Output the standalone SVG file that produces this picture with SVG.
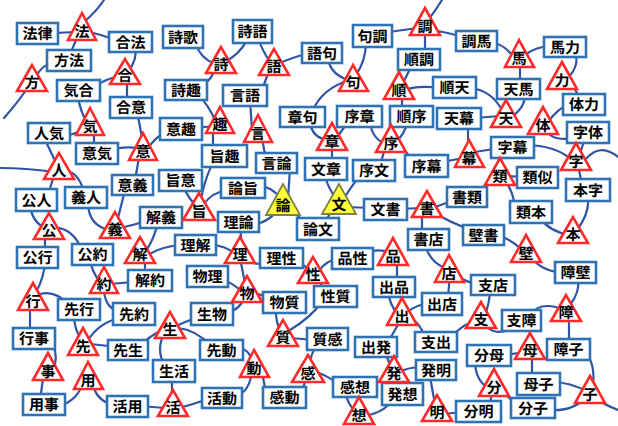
<svg xmlns="http://www.w3.org/2000/svg" width="618" height="426" viewBox="0 0 618 426">
<style>
.c path{fill:none;stroke:#2f54a5;stroke-width:2.2;stroke-linecap:round}
rect{fill:#fff;stroke:#2e74b5;stroke-width:2.6}
polygon{fill:#fff;stroke:#ff2a2a;stroke-width:2.6;stroke-linejoin:miter}
polygon.y{fill:#ffff3c;stroke:#7f7f40;stroke-width:1.8}
text{font-family:"Noto Sans CJK JP","Noto Sans CJK SC",sans-serif;font-weight:700;font-size:15px;text-anchor:middle;fill:#000;text-rendering:geometricPrecision}
#words,#chars{opacity:0.999}
</style>
<rect x="0" y="0" width="618" height="426" style="fill:#fff;stroke:none"/>
<g class="c">
<path d="M84 22 Q96 12 104 0"/>
<path d="M55 33 L75 32"/>
<path d="M88 32 Q100 34 115 40"/>
<path d="M78 36 Q74 44 70 55"/>
<path d="M55 62 Q42 64 35 78"/>
<path d="M30 84 Q20 100 4 118"/>
<path d="M135 48 Q138 58 128 72"/>
<path d="M95 86 Q108 78 120 76"/>
<path d="M127 78 L127 102"/>
<path d="M78 96 Q80 112 88 124"/>
<path d="M65 136 Q76 134 86 128"/>
<path d="M94 130 L94 150"/>
<path d="M137 112 Q140 125 143 145"/>
<path d="M112 150 Q122 146 138 148"/>
<path d="M165 132 Q155 138 148 148"/>
<path d="M140 152 L135 180"/>
<path d="M45 140 Q50 150 57 165"/>
<path d="M0 168 Q25 168 55 172"/>
<path d="M62 170 Q78 170 84 192"/>
<path d="M55 172 L48 195"/>
<path d="M30 205 Q32 222 45 228"/>
<path d="M52 228 Q72 226 82 250"/>
<path d="M45 232 L45 252"/>
<path d="M88 202 Q88 226 110 230"/>
<path d="M125 190 L117 222"/>
<path d="M118 228 Q132 226 148 220"/>
<path d="M158 222 Q154 240 145 252"/>
<path d="M90 260 Q92 272 100 282"/>
<path d="M145 255 L145 276"/>
<path d="M108 284 L135 282"/>
<path d="M104 288 Q104 308 120 312"/>
<path d="M148 255 Q162 246 182 245"/>
<path d="M210 245 Q225 245 235 254"/>
<path d="M242 248 L240 226"/>
<path d="M255 224 Q270 222 282 205"/>
<path d="M258 186 Q272 186 282 200"/>
<path d="M290 168 L288 200"/>
<path d="M290 205 L305 225"/>
<path d="M228 190 Q212 192 203 205"/>
<path d="M183 186 Q188 198 198 208"/>
<path d="M215 160 Q205 175 200 205"/>
<path d="M213 125 L213 152"/>
<path d="M198 95 Q208 104 216 122"/>
<path d="M195 128 L215 126"/>
<path d="M216 65 Q214 78 200 88"/>
<path d="M196 44 Q200 58 215 64"/>
<path d="M248 38 Q240 55 224 62"/>
<path d="M258 38 Q262 50 270 62"/>
<path d="M278 64 Q290 58 310 53"/>
<path d="M270 68 L262 90"/>
<path d="M250 100 L252 130"/>
<path d="M262 138 L266 160"/>
<path d="M328 58 Q330 74 348 80"/>
<path d="M366 42 Q366 60 356 75"/>
<path d="M350 80 Q322 88 312 112"/>
<path d="M385 33 Q400 30 420 28"/>
<path d="M428 20 Q436 10 442 0"/>
<path d="M425 30 L425 55"/>
<path d="M430 30 Q448 32 465 38"/>
<path d="M412 65 L402 85"/>
<path d="M405 90 Q418 85 440 88"/>
<path d="M402 92 L402 112"/>
<path d="M310 122 Q312 138 328 140"/>
<path d="M348 122 L335 140"/>
<path d="M332 145 L332 165"/>
<path d="M370 122 Q372 140 388 145"/>
<path d="M407 122 Q405 135 395 142"/>
<path d="M385 148 L380 166"/>
<path d="M395 146 Q405 148 412 160"/>
<path d="M440 163 Q450 160 465 158"/>
<path d="M468 124 L468 155"/>
<path d="M475 118 L500 116"/>
<path d="M470 88 Q492 90 503 112"/>
<path d="M525 95 Q525 108 510 118"/>
<path d="M520 85 L520 55"/>
<path d="M490 42 Q505 44 514 58"/>
<path d="M525 55 Q535 47 550 46"/>
<path d="M575 52 Q580 65 568 78"/>
<path d="M572 82 L580 100"/>
<path d="M570 104 Q558 108 548 122"/>
<path d="M545 128 Q550 142 575 138"/>
<path d="M585 138 L578 160"/>
<path d="M585 160 Q600 142 618 157"/>
<path d="M525 145 Q555 145 572 160"/>
<path d="M500 148 L475 152"/>
<path d="M578 165 L582 185"/>
<path d="M588 195 Q590 215 575 232"/>
<path d="M540 218 Q550 232 570 235"/>
<path d="M505 176 L525 177"/>
<path d="M503 178 Q512 188 515 206"/>
<path d="M480 192 Q488 182 497 175"/>
<path d="M435 207 L455 200"/>
<path d="M400 209 L420 208"/>
<path d="M422 212 L422 235"/>
<path d="M432 212 Q450 222 470 230"/>
<path d="M498 236 Q510 238 522 250"/>
<path d="M530 255 Q538 270 562 273"/>
<path d="M578 280 Q580 292 570 305"/>
<path d="M325 176 Q328 188 337 200"/>
<path d="M360 176 Q352 185 343 200"/>
<path d="M345 207 L372 208"/>
<path d="M325 222 L335 205"/>
<path d="M245 258 Q252 266 268 263"/>
<path d="M295 262 Q305 264 310 272"/>
<path d="M340 258 Q326 260 318 272"/>
<path d="M365 254 Q375 248 390 252"/>
<path d="M397 258 L397 283"/>
<path d="M318 278 L325 292"/>
<path d="M322 302 Q310 318 290 330"/>
<path d="M276 308 Q275 322 282 335"/>
<path d="M252 292 L270 298"/>
<path d="M222 280 Q232 282 242 292"/>
<path d="M240 258 L246 288"/>
<path d="M228 312 Q240 310 246 295"/>
<path d="M178 325 L200 316"/>
<path d="M142 344 Q150 336 162 330"/>
<path d="M178 328 Q196 330 210 345"/>
<path d="M165 332 Q155 350 165 365"/>
<path d="M90 344 L118 347"/>
<path d="M74 315 Q74 330 82 340"/>
<path d="M120 318 Q100 322 88 340"/>
<path d="M45 262 Q44 278 36 292"/>
<path d="M40 294 Q55 290 68 304"/>
<path d="M30 300 L30 335"/>
<path d="M50 342 Q58 350 55 365"/>
<path d="M44 372 L40 400"/>
<path d="M58 406 Q78 402 85 378"/>
<path d="M92 380 Q95 402 115 405"/>
<path d="M140 406 L165 408"/>
<path d="M172 376 L172 400"/>
<path d="M178 408 Q192 405 210 398"/>
<path d="M236 347 Q248 348 252 360"/>
<path d="M236 396 Q250 392 252 370"/>
<path d="M262 372 L266 393"/>
<path d="M300 393 Q306 385 306 372"/>
<path d="M318 345 Q310 352 310 368"/>
<path d="M290 338 L315 340"/>
<path d="M315 372 Q325 374 340 385"/>
<path d="M345 392 Q348 405 356 412"/>
<path d="M392 400 Q385 412 365 416"/>
<path d="M398 378 L400 390"/>
<path d="M385 352 L392 370"/>
<path d="M400 372 Q410 366 425 368"/>
<path d="M430 375 Q432 390 436 408"/>
<path d="M442 414 L465 412"/>
<path d="M388 342 Q395 330 402 318"/>
<path d="M388 292 Q390 305 398 315"/>
<path d="M408 312 Q415 305 430 303"/>
<path d="M410 318 Q420 322 425 338"/>
<path d="M448 298 L450 272"/>
<path d="M425 245 Q430 262 445 268"/>
<path d="M455 272 Q462 282 480 285"/>
<path d="M490 290 Q490 302 484 318"/>
<path d="M478 320 Q465 322 450 338"/>
<path d="M485 322 Q490 338 515 328"/>
<path d="M530 315 Q540 300 565 310"/>
<path d="M569 310 L569 345"/>
<path d="M585 352 Q597 365 592 392"/>
<path d="M552 382 Q570 382 588 392"/>
<path d="M548 410 Q575 412 588 395"/>
<path d="M595 398 Q605 405 618 410"/>
<path d="M530 326 L530 340"/>
<path d="M532 352 L532 380"/>
<path d="M505 355 L525 352"/>
<path d="M475 360 Q475 380 488 388"/>
<path d="M492 390 L490 406"/>
<path d="M498 388 Q505 395 518 405"/>
</g>
<g id="words">
<g id="w-houritsu"><rect x="17" y="23" width="41" height="21"/><text x="37.5" y="39">法律</text></g>
<g id="w-houhou"><rect x="47" y="50" width="44" height="21"/><text x="69" y="66">方法</text></g>
<g id="w-gouhou"><rect x="109" y="32" width="43" height="20"/><text x="130.5" y="47.5">合法</text></g>
<g id="w-kiai"><rect x="57" y="80" width="43" height="21"/><text x="78.5" y="96">気合</text></g>
<g id="w-goui"><rect x="110" y="97" width="42" height="21"/><text x="131" y="113">合意</text></g>
<g id="w-ninki"><rect x="28" y="123" width="42" height="20"/><text x="49" y="138.5">人気</text></g>
<g id="w-iki"><rect x="76" y="143" width="42" height="21"/><text x="97" y="159">意気</text></g>
<g id="w-igi"><rect x="112" y="175" width="41" height="20"/><text x="132.5" y="190.5">意義</text></g>
<g id="w-gijin"><rect x="65" y="187" width="42" height="21"/><text x="86" y="203">義人</text></g>
<g id="w-koujin"><rect x="16" y="189" width="41" height="22"/><text x="36.5" y="205.5">公人</text></g>
<g id="w-kaigi"><rect x="140" y="207" width="42" height="21"/><text x="161" y="223">解義</text></g>
<g id="w-koukou"><rect x="17" y="247" width="41" height="21"/><text x="37.5" y="263">公行</text></g>
<g id="w-kouyaku"><rect x="72" y="244" width="41" height="21"/><text x="92.5" y="260">公約</text></g>
<g id="w-kaiyaku"><rect x="128" y="270" width="44" height="21"/><text x="150" y="286">解約</text></g>
<g id="w-senkou"><rect x="58" y="299" width="42" height="21"/><text x="79" y="315">先行</text></g>
<g id="w-senyaku"><rect x="113" y="303" width="42" height="22"/><text x="134" y="319.5">先約</text></g>
<g id="w-gyouji"><rect x="13" y="328" width="42" height="21"/><text x="34" y="344">行事</text></g>
<g id="w-sensei"><rect x="108" y="340" width="40" height="20"/><text x="128" y="355.5">先生</text></g>
<g id="w-youji"><rect x="23" y="394" width="42" height="21"/><text x="44" y="410">用事</text></g>
<g id="w-katsuyou"><rect x="107" y="396" width="41" height="21"/><text x="127.5" y="412">活用</text></g>
<g id="w-seikatsu"><rect x="153" y="360" width="42" height="22"/><text x="174" y="376.5">生活</text></g>
<g id="w-seibutsu"><rect x="191" y="303" width="42" height="22"/><text x="212" y="319.5">生物</text></g>
<g id="w-sendou"><rect x="200" y="340" width="43" height="20"/><text x="221.5" y="355.5">先動</text></g>
<g id="w-katsudou"><rect x="202" y="388" width="40" height="20"/><text x="222" y="403.5">活動</text></g>
<g id="w-kandou"><rect x="263" y="387" width="43" height="21"/><text x="284.5" y="403">感動</text></g>
<g id="w-butsuri"><rect x="187" y="266" width="41" height="21"/><text x="207.5" y="282">物理</text></g>
<g id="w-busshitsu"><rect x="263" y="292" width="43" height="21"/><text x="284.5" y="308">物質</text></g>
<g id="w-rikai"><rect x="175" y="235" width="41" height="20"/><text x="195.5" y="250.5">理解</text></g>
<g id="w-risei"><rect x="260" y="248" width="43" height="20"/><text x="281.5" y="263.5">理性</text></g>
<g id="w-riron"><rect x="218" y="212" width="41" height="20"/><text x="238.5" y="227.5">理論</text></g>
<g id="w-shii"><rect x="159" y="170" width="43" height="21"/><text x="180.5" y="186">旨意</text></g>
<g id="w-ronshi"><rect x="221" y="178" width="44" height="20"/><text x="243" y="193.5">論旨</text></g>
<g id="w-shishu"><rect x="202" y="145" width="45" height="22"/><text x="224.5" y="161.5">旨趣</text></g>
<g id="w-genron"><rect x="256" y="153" width="41" height="20"/><text x="276.5" y="168.5">言論</text></g>
<g id="w-ishu"><rect x="160" y="118" width="42" height="22"/><text x="181" y="134.5">意趣</text></g>
<g id="w-shika"><rect x="163" y="26" width="40" height="22"/><text x="183" y="42.5">詩歌</text></g>
<g id="w-shigo"><rect x="233" y="20" width="39" height="23"/><text x="252.5" y="37">詩語</text></g>
<g id="w-shishu2"><rect x="165" y="80" width="42" height="20"/><text x="186" y="95.5">詩趣</text></g>
<g id="w-gengo"><rect x="223" y="85" width="44" height="21"/><text x="245" y="101">言語</text></g>
<g id="w-goku"><rect x="302" y="43" width="40" height="20"/><text x="322" y="58.5">語句</text></g>
<g id="w-shouku"><rect x="280" y="107" width="45" height="20"/><text x="302.5" y="122.5">章句</text></g>
<g id="w-kuchou"><rect x="353" y="25" width="39" height="22"/><text x="372.5" y="41.5">句調</text></g>
<g id="w-junchou"><rect x="398" y="49" width="42" height="21"/><text x="419" y="65">順調</text></g>
<g id="w-junten"><rect x="433" y="77" width="43" height="21"/><text x="454.5" y="93">順天</text></g>
<g id="w-joshou"><rect x="337" y="106" width="45" height="21"/><text x="359.5" y="122">序章</text></g>
<g id="w-junjo"><rect x="390" y="106" width="43" height="21"/><text x="411.5" y="122">順序</text></g>
<g id="w-tenmaku"><rect x="437" y="108" width="44" height="21"/><text x="459" y="124">天幕</text></g>
<g id="w-chouba"><rect x="456" y="31" width="41" height="20"/><text x="476.5" y="46.5">調馬</text></g>
<g id="w-bariki"><rect x="544" y="37" width="42" height="20"/><text x="565" y="52.5">馬力</text></g>
<g id="w-tenba"><rect x="497" y="79" width="43" height="20"/><text x="518.5" y="94.5">天馬</text></g>
<g id="w-tairyoku"><rect x="563" y="94" width="42" height="21"/><text x="584" y="110">体力</text></g>
<g id="w-jitai"><rect x="567" y="122" width="42" height="21"/><text x="588" y="138">字体</text></g>
<g id="w-jimaku"><rect x="491" y="137" width="43" height="21"/><text x="512.5" y="153">字幕</text></g>
<g id="w-ruiji"><rect x="517" y="167" width="41" height="21"/><text x="537.5" y="183">類似</text></g>
<g id="w-honji"><rect x="566" y="179" width="44" height="22"/><text x="588" y="195.5">本字</text></g>
<g id="w-ruihon"><rect x="510" y="201" width="42" height="22"/><text x="531" y="217.5">類本</text></g>
<g id="w-shorui"><rect x="447" y="187" width="40" height="20"/><text x="467" y="202.5">書類</text></g>
<g id="w-bunshou"><rect x="305" y="158" width="42" height="22"/><text x="326" y="174.5">文章</text></g>
<g id="w-jobun"><rect x="353" y="160" width="42" height="21"/><text x="374" y="176">序文</text></g>
<g id="w-jomaku"><rect x="405" y="155" width="43" height="22"/><text x="426.5" y="171.5">序幕</text></g>
<g id="w-bunsho"><rect x="364" y="199" width="43" height="21"/><text x="385.5" y="215">文書</text></g>
<g id="w-ronbun"><rect x="297" y="218" width="42" height="22"/><text x="318" y="234.5">論文</text></g>
<g id="w-shoten"><rect x="408" y="229" width="41" height="21"/><text x="428.5" y="245">書店</text></g>
<g id="w-hekisho"><rect x="463" y="225" width="41" height="20"/><text x="483.5" y="240.5">壁書</text></g>
<g id="w-shouheki"><rect x="555" y="262" width="41" height="21"/><text x="575.5" y="278">障壁</text></g>
<g id="w-hinsei"><rect x="332" y="248" width="41" height="21"/><text x="352.5" y="264">品性</text></g>
<g id="w-shuppin"><rect x="373" y="277" width="42" height="20"/><text x="394" y="292.5">出品</text></g>
<g id="w-seishitsu"><rect x="314" y="286" width="43" height="21"/><text x="335.5" y="302">性質</text></g>
<g id="w-shutten"><rect x="422" y="293" width="40" height="22"/><text x="442" y="309.5">出店</text></g>
<g id="w-shiten"><rect x="471" y="275" width="44" height="20"/><text x="493" y="290.5">支店</text></g>
<g id="w-shitsukan"><rect x="307" y="328" width="41" height="22"/><text x="327.5" y="344.5">質感</text></g>
<g id="w-shishutsu"><rect x="415" y="332" width="42" height="20"/><text x="436" y="347.5">支出</text></g>
<g id="w-shuppatsu"><rect x="355" y="337" width="42" height="20"/><text x="376" y="352.5">出発</text></g>
<g id="w-hatsumei"><rect x="416" y="360" width="40" height="20"/><text x="436" y="375.5">発明</text></g>
<g id="w-kansou"><rect x="333" y="377" width="44" height="20"/><text x="355" y="392.5">感想</text></g>
<g id="w-hassou"><rect x="382" y="383" width="41" height="22"/><text x="402.5" y="399.5">発想</text></g>
<g id="w-bunmei"><rect x="456" y="401" width="45" height="21"/><text x="478.5" y="417">分明</text></g>
<g id="w-shishou"><rect x="502" y="310" width="39" height="21"/><text x="521.5" y="326">支障</text></g>
<g id="w-shouji"><rect x="547" y="339" width="43" height="21"/><text x="568.5" y="355">障子</text></g>
<g id="w-bunbo"><rect x="467" y="345" width="44" height="21"/><text x="489" y="361">分母</text></g>
<g id="w-boshi"><rect x="517" y="373" width="43" height="22"/><text x="538.5" y="389.5">母子</text></g>
<g id="w-bunshi"><rect x="511" y="398" width="44" height="20"/><text x="533" y="413.5">分子</text></g>
</g>
<g id="chars">
<g id="k-hou"><polygon points="82,13 68,40 96,40"/><text x="82" y="37">法</text></g>
<g id="k-hou2"><polygon points="32,65 17,91 47,91"/><text x="32" y="88">方</text></g>
<g id="k-gou"><polygon points="125,59 110,84 140,84"/><text x="125" y="81">合</text></g>
<g id="k-ki"><polygon points="90,108 76,135 104,135"/><text x="90" y="132">気</text></g>
<g id="k-i"><polygon points="143,133 129,160 157,160"/><text x="143" y="157">意</text></g>
<g id="k-hito"><polygon points="59,153 44,179 74,179"/><text x="59" y="176">人</text></g>
<g id="k-kou"><polygon points="49,213 34,239 64,239"/><text x="49" y="236">公</text></g>
<g id="k-gi"><polygon points="115,212 100,238 130,238"/><text x="115" y="235">義</text></g>
<g id="k-kai"><polygon points="140,237 125,263 155,263"/><text x="140" y="260">解</text></g>
<g id="k-yaku"><polygon points="104,267 90,293 118,293"/><text x="104" y="290">約</text></g>
<g id="k-gyou"><polygon points="33,283 18,310 48,310"/><text x="33" y="307">行</text></g>
<g id="k-sen"><polygon points="83,328 68,355 98,355"/><text x="83" y="352">先</text></g>
<g id="k-ji"><polygon points="48,353 33,380 63,380"/><text x="48" y="377">事</text></g>
<g id="k-you"><polygon points="88,362 74,389 103,389"/><text x="88" y="386">用</text></g>
<g id="k-sei"><polygon points="170,312 155,338 185,338"/><text x="170" y="335">生</text></g>
<g id="k-katsu"><polygon points="173,390 158,416 188,416"/><text x="173" y="413">活</text></g>
<g id="k-dou"><polygon points="254,350 240,377 269,377"/><text x="254" y="374">動</text></g>
<g id="k-butsu"><polygon points="247,276 232,302 262,302"/><text x="247" y="299">物</text></g>
<g id="k-shitsu"><polygon points="283,320 268,346 298,346"/><text x="283" y="343">質</text></g>
<g id="k-kan"><polygon points="308,355 292,382 324,382"/><text x="308" y="379">感</text></g>
<g id="k-sou"><polygon points="359,397 344,424 374,424"/><text x="359" y="421">想</text></g>
<g id="k-ri"><polygon points="240,237 225,263 255,263"/><text x="240" y="260">理</text></g>
<g id="k-shi"><polygon points="199,193 183,220 215,220"/><text x="199" y="217">旨</text></g>
<g id="k-ron"><polygon class="y" points="283,184 266,215 300,215"/><text x="283" y="211">論</text></g>
<g id="k-bun"><polygon class="y" points="339,184 322,214 356,214"/><text x="339" y="210">文</text></g>
<g id="k-shi2"><polygon points="221,47 206,73 236,73"/><text x="221" y="70">詩</text></g>
<g id="k-go"><polygon points="274,49 259,75 289,75"/><text x="274" y="72">語</text></g>
<g id="k-shu"><polygon points="220,107 206,133 234,133"/><text x="220" y="130">趣</text></g>
<g id="k-gen"><polygon points="258,115 244,142 272,142"/><text x="258" y="139">言</text></g>
<g id="k-ku"><polygon points="353,65 339,91 368,91"/><text x="353" y="88">句</text></g>
<g id="k-chou"><polygon points="425,8 410,35 440,35"/><text x="425" y="32">調</text></g>
<g id="k-jun"><polygon points="399,72 384,99 414,99"/><text x="399" y="96">順</text></g>
<g id="k-shou"><polygon points="332,123 317,150 347,150"/><text x="332" y="147">章</text></g>
<g id="k-jo"><polygon points="391,125 376,152 406,152"/><text x="391" y="149">序</text></g>
<g id="k-uma"><polygon points="519,40 505,67 534,67"/><text x="519" y="64">馬</text></g>
<g id="k-chikara"><polygon points="562,62 547,89 577,89"/><text x="562" y="86">力</text></g>
<g id="k-ten"><polygon points="506,100 491,127 521,127"/><text x="506" y="124">天</text></g>
<g id="k-tai"><polygon points="543,107 528,134 558,134"/><text x="543" y="131">体</text></g>
<g id="k-maku"><polygon points="469,140 455,167 484,167"/><text x="469" y="164">幕</text></g>
<g id="k-ji2"><polygon points="576,143 561,170 591,170"/><text x="576" y="167">字</text></g>
<g id="k-rui"><polygon points="500,158 485,185 515,185"/><text x="500" y="182">類</text></g>
<g id="k-hon"><polygon points="573,217 558,243 588,243"/><text x="573" y="240">本</text></g>
<g id="k-sho"><polygon points="427,191 412,217 442,217"/><text x="427" y="214">書</text></g>
<g id="k-heki"><polygon points="526,235 511,262 541,262"/><text x="526" y="259">壁</text></g>
<g id="k-hin"><polygon points="393,238 378,265 408,265"/><text x="393" y="262">品</text></g>
<g id="k-sei2"><polygon points="313,257 298,283 328,283"/><text x="313" y="280">性</text></g>
<g id="k-ten2"><polygon points="449,255 435,282 464,282"/><text x="449" y="279">店</text></g>
<g id="k-shutsu"><polygon points="402,298 387,325 417,325"/><text x="402" y="322">出</text></g>
<g id="k-shi3"><polygon points="481,302 466,328 496,328"/><text x="481" y="325">支</text></g>
<g id="k-shou2"><polygon points="566,295 551,321 581,321"/><text x="566" y="318">障</text></g>
<g id="k-hatsu"><polygon points="394,356 379,382 409,382"/><text x="394" y="379">発</text></g>
<g id="k-mei"><polygon points="437,395 422,421 452,421"/><text x="437" y="418">明</text></g>
<g id="k-bo"><polygon points="530,333 515,359 545,359"/><text x="530" y="356">母</text></g>
<g id="k-bun2"><polygon points="494,369 479,396 509,396"/><text x="494" y="393">分</text></g>
<g id="k-ko"><polygon points="590,376 575,403 605,403"/><text x="590" y="400">子</text></g>
</g>
</svg>
